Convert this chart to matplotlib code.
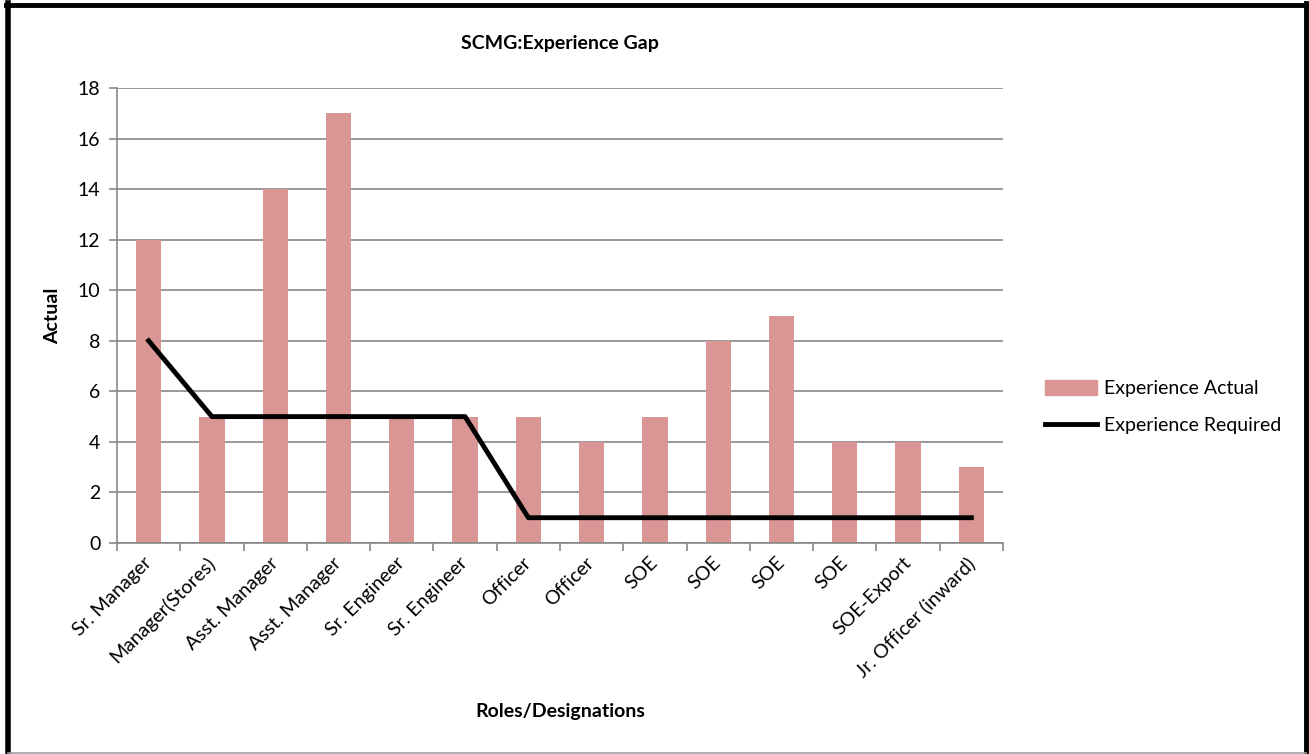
import matplotlib
matplotlib.use("Agg")
import matplotlib.pyplot as plt
from matplotlib.patches import Rectangle
from matplotlib.lines import Line2D
import matplotlib.transforms as mtransforms
import numpy as np

roles = ["Sr. Manager", "Manager(Stores)", "Asst. Manager", "Asst. Manager",
         "Sr. Engineer", "Sr. Engineer", "Officer", "Officer", "SOE", "SOE",
         "SOE", "SOE", "SOE-Export", "Jr. Officer (inward)"]
actual = [12, 5, 14, 17, 5, 5, 5, 4, 5, 8, 9, 4, 4, 3]
required = [8, 5, 5, 5, 5, 5, 1, 1, 1, 1, 1, 1, 1, 1]
yticks = [0, 2, 4, 6, 8, 10, 12, 14, 16, 18]

plt.rcParams['font.family'] = ['Lato', 'DejaVu Sans']
W, H = 1309, 754
fig = plt.figure(figsize=(W / 100, H / 100), dpi=100)

def fx(px):
    return px / W

def fy(py):
    return 1 - py / H

# Outer border: black left/top/right, thin gray bottom
fig.add_artist(Line2D([fx(8), fx(8)], [fy(3), fy(753)], color='black', linewidth=4,
                      transform=fig.transFigure))
fig.add_artist(Line2D([fx(6), fx(1307)], [fy(5), fy(5)], color='black', linewidth=3.5,
                      transform=fig.transFigure))
fig.add_artist(Line2D([fx(1306), fx(1306)], [fy(3), fy(753)], color='black', linewidth=3.5,
                      transform=fig.transFigure))
fig.add_artist(Line2D([fx(8), fx(1306)], [fy(752.5), fy(752.5)], color='#A0A0A0', linewidth=1.2,
                      transform=fig.transFigure))

ax = fig.add_axes([fx(117), fy(543), (1003 - 117) / W, (543 - 88) / H])
x = np.arange(len(roles))
ax.bar(x, actual, width=0.4, color='#D99694', zorder=2, label='Experience Actual')
ax.plot(x, required, color='black', linewidth=3.5, zorder=3, label='Experience Required')

ax.set_xlim(-0.5, len(roles) - 0.5)
ax.set_ylim(0, 18)
ax.set_yticks(yticks)
ax.yaxis.grid(True, color='#878787', linewidth=1.2, zorder=0)
ax.set_axisbelow(True)
for s in ['top', 'right']:
    ax.spines[s].set_visible(False)
for s in ['left', 'bottom']:
    ax.spines[s].set_color('#878787')
    ax.spines[s].set_linewidth(1.2)

fs = 14
ax.set_xticks(np.arange(-0.5, len(roles), 1.0), minor=False)
ax.set_xticklabels([])
ax.set_xticks(x, minor=True)
ax.set_xticklabels(roles, minor=True, rotation=45, ha='right', va='top',
                   rotation_mode='anchor', fontsize=fs)
ax.tick_params(axis='x', which='major', length=6, color='#878787', width=1.2, direction='out')
ax.tick_params(axis='x', which='minor', length=0, pad=8)
ax.tick_params(axis='y', length=6, color='#878787', width=1.2, labelsize=fs, pad=6)
offset = mtransforms.ScaledTranslation(-6 / 100, 0, fig.dpi_scale_trans)
for lab in ax.get_xticklabels(minor=True):
    lab.set_transform(lab.get_transform() + offset)

ax.set_ylabel('Actual', fontsize=fs, fontweight='bold', labelpad=12)
fig.text(fx(560), fy(711), 'Roles/Designations', ha='center', va='center',
         fontsize=fs, fontweight='bold')
fig.text(fx(560), fy(43), 'SCMG:Experience Gap', ha='center', va='center',
         fontsize=14, fontweight='bold')

handles = [Rectangle((0, 0), 1, 1, color='#D99694'),
           Line2D([0], [0], color='black', linewidth=3.5)]
fig.legend(handles, ['Experience Actual', 'Experience Required'],
           loc='center left', bbox_to_anchor=(fx(1027), fy(407)),
           frameon=False, fontsize=fs, handlelength=2.7, handleheight=0.8,
           labelspacing=1.0, handletextpad=0.35)

fig.savefig('out.png', dpi=100)
